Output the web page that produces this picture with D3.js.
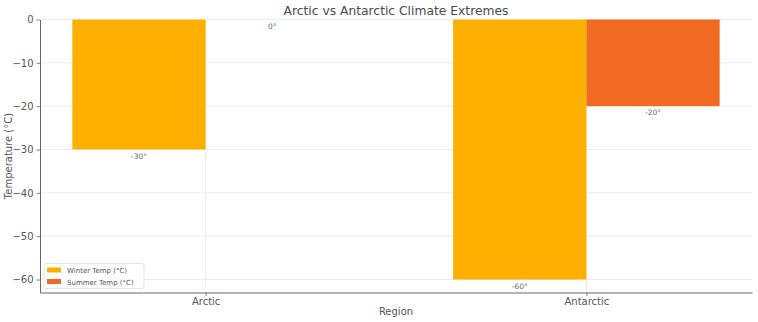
<!DOCTYPE html>
<html>
<head>
    <script src="https://d3js.org/d3.v7.min.js" charset="utf-8"></script>
    <style>
        body { margin: 0; background: #fff; }
        text { font-family: "DejaVu Sans", sans-serif; }
    </style>
</head>
<body>
    <svg id="chart"></svg>
    <script>
        var width = 758;
        var height = 322;

        // chart data
        var regions = ["Arctic", "Antarctic"];
        var winterTemps = [-30, -60];
        var summerTemps = [0, -20];
        var seriesNames = ["Winter Temp (°C)", "Summer Temp (°C)"];
        var seriesColors = ["#FDAF02", "#F06A22"];
        var yTicks = [0, -10, -20, -30, -40, -50, -60];

        var margin = { top: 19.5, right: 6, bottom: 29.5, left: 40 };
        var barW = 0.35;

        var svg = d3.select("#chart")
            .attr("width", width)
            .attr("height", height);

        var plotW = width - margin.left - margin.right;
        var plotH = height - margin.top - margin.bottom;

        var g = svg.append("g")
            .attr("transform", "translate(" + margin.left + "," + margin.top + ")");

        // x is a linear scale over category index, like matplotlib
        var x = d3.scaleLinear()
            .domain([-barW - 0.085, 1 + barW + 0.085])
            .range([0, plotW]);

        var y = d3.scaleLinear()
            .domain([-63, 0])
            .range([plotH, 0]);

        // grid
        g.append("g")
            .selectAll("line.h")
            .data(yTicks)
            .enter()
            .append("line")
            .attr("x1", 0)
            .attr("x2", plotW)
            .attr("y1", function(d) { return y(d); })
            .attr("y2", function(d) { return y(d); })
            .attr("stroke", "#e8e8e8")
            .attr("stroke-width", 0.8);

        g.append("g")
            .selectAll("line.v")
            .data(regions)
            .enter()
            .append("line")
            .attr("x1", function(d, i) { return x(i); })
            .attr("x2", function(d, i) { return x(i); })
            .attr("y1", 0)
            .attr("y2", plotH)
            .attr("stroke", "#e8e8e8")
            .attr("stroke-width", 0.8);

        // bars
        var series = [winterTemps, summerTemps];
        series.forEach(function(vals, s) {
            var off = s === 0 ? -barW : 0;
            g.append("g")
                .selectAll("rect")
                .data(vals)
                .enter()
                .append("rect")
                .attr("x", function(d, i) { return x(i + off); })
                .attr("width", x(barW) - x(0))
                .attr("y", function(d) { return y(Math.max(0, d)); })
                .attr("height", function(d) { return Math.abs(y(d) - y(0)); })
                .attr("fill", seriesColors[s]);

            g.append("g")
                .selectAll("text")
                .data(vals)
                .enter()
                .append("text")
                .attr("x", function(d, i) { return x(i + off + barW / 2); })
                .attr("y", function(d) { return y(d) + 9; })
                .attr("text-anchor", "middle")
                .attr("font-size", 7.5)
                .attr("fill", "#666")
                .text(function(d) { return d + "°"; });
        });

        // axes
        var yAxis = d3.axisLeft(y)
            .tickValues(yTicks)
            .tickSize(3.5)
            .tickSizeOuter(0)
            .tickPadding(3)
            .tickFormat(function(d) { return d === 0 ? "0" : "\u2212" + Math.abs(d); });

        var xAxis = d3.axisBottom(x)
            .tickValues([0, 1])
            .tickSize(3.5)
            .tickSizeOuter(0)
            .tickPadding(2)
            .tickFormat(function(d) { return regions[d]; });

        var ya = g.append("g").call(yAxis);
        var xa = g.append("g").attr("transform", "translate(0," + plotH + ")").call(xAxis);

        [ya, xa].forEach(function(a) {
            a.select(".domain").attr("stroke", "#666").attr("stroke-width", 1);
            a.selectAll(".tick line").attr("stroke", "#666").attr("stroke-width", 0.8);
            a.selectAll(".tick text").attr("font-size", 10).attr("fill", "#555")
                .style("font-family", "DejaVu Sans, sans-serif");
        });

        // title and labels
        svg.append("text")
            .attr("x", margin.left + plotW / 2)
            .attr("y", 15)
            .attr("text-anchor", "middle")
            .attr("font-size", 12.3)
            .attr("fill", "#4a4a4a")
            .text("Arctic vs Antarctic Climate Extremes");

        svg.append("text")
            .attr("x", margin.left + plotW / 2)
            .attr("y", 315)
            .attr("text-anchor", "middle")
            .attr("font-size", 10)
            .attr("fill", "#555")
            .text("Region");

        svg.append("text")
            .attr("transform", "translate(12," + (margin.top + plotH / 2) + ") rotate(-90)")
            .attr("text-anchor", "middle")
            .attr("font-size", 10)
            .attr("fill", "#555")
            .text("Temperature (°C)");

        // legend
        var lg = g.append("g").attr("transform", "translate(4," + (plotH - 29) + ")");
        lg.append("rect")
            .attr("width", 100)
            .attr("height", 25)
            .attr("rx", 2)
            .attr("fill", "#fff")
            .attr("fill-opacity", 0.8)
            .attr("stroke", "#ddd")
            .attr("stroke-width", 0.8);

        seriesNames.forEach(function(name, i) {
            lg.append("rect")
                .attr("x", 3)
                .attr("y", 4 + i * 11.5)
                .attr("width", 14)
                .attr("height", 5)
                .attr("fill", seriesColors[i]);
            lg.append("text")
                .attr("x", 23)
                .attr("y", 9.5 + i * 11.5)
                .attr("font-size", 7)
                .attr("fill", "#555")
                .text(name);
        });
    </script>
</body>
</html>
